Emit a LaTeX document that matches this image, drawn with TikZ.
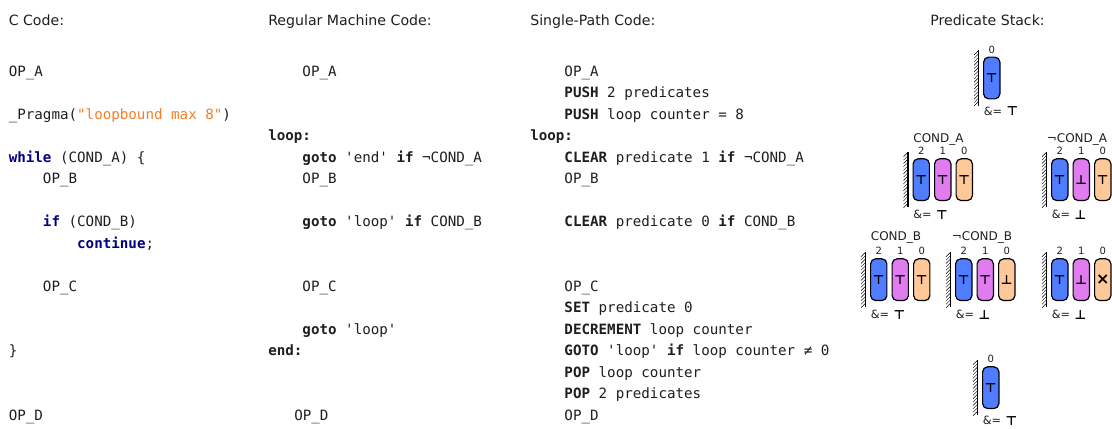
\documentclass[tikz,border=0pt]{standalone}
\usepackage{fontspec}
\setmainfont{DejaVu Sans}
\setmonofont{DejaVu Sans Mono}

\definecolor{ink}{RGB}{30,30,30}
\definecolor{kwnavy}{RGB}{0,0,128}
\definecolor{strorange}{RGB}{245,125,40}
\definecolor{pblue}{RGB}{80,125,255}
\definecolor{ppurple}{RGB}{224,123,240}
\definecolor{porange}{RGB}{255,200,153}

\newcommand\kw[1]{{\bfseries\color{kwnavy}#1}}
\newcommand\bw[1]{{\bfseries #1}}

% wall with hatching on its left side: x, top y, bottom y
\newcommand\stackwall[3]{%
  \draw[wall] (#1,#2) -- (#1,#3);
  \foreach \k in {0,...,15} \draw[hatch] (#1,#2+3.4*\k) -- ++(-4.5,4.5);
}

% three-slot predicate stack: name, left x, centre y, slot 2, slot 1, slot 0, result
\newcommand\predgroup[7]{%
  \stackwall{#2-4.5}{#3-27.5}{#3+27.5}
  \node[cell,fill=pblue]   (#1-2) at (#2+8.75,#3)  {#4};
  \node[cell,fill=ppurple] (#1-1) at (#2+30.25,#3) {#5};
  \node[cell,fill=porange] (#1-0) at (#2+51.75,#3) {#6};
  \node[idx] (#1-i2) at (#2+8.75,#3-28.5)  {2};
  \node[idx] (#1-i1) at (#2+30.25,#3-28.5) {1};
  \node[idx] (#1-i0) at (#2+51.75,#3-28.5) {0};
  \node[res,anchor=west] (#1-and) at (#2+0.5,#3+35) {\&=};
  \node[ressym] (#1-res) at (#2+29.5,#3+35) {#7};
}

% single-slot predicate stack: name, left x, centre y, slot 0, result
\newcommand\predsingle[5]{%
  \stackwall{#2-4.5}{#3-27.5}{#3+27.5}
  \node[cell,fill=pblue] (#1-0) at (#2+8.75,#3) {#4};
  \node[idx] (#1-i0) at (#2+8.75,#3-28.5) {0};
  \node[res,anchor=west] (#1-and) at (#2+0.5,#3+33) {\&=};
  \node[ressym] (#1-res) at (#2+29.5,#3+33) {#5};
}

\begin{document}
\begin{tikzpicture}[x=0.75pt,y=-0.75pt,
  hdr/.style={anchor=base west, inner sep=0pt, font=\fontsize{10.6}{12}\selectfont, text=ink},
  code/.style={anchor=base west, inner sep=0pt, font=\ttfamily\fontsize{10.65}{12}\selectfont, text=ink},
  cell/.style={draw=black, line width=0.9pt, rounded corners=3.75pt, minimum width=12.2pt,
               minimum height=31.3pt, inner sep=0pt, font=\bfseries\fontsize{9.5}{9.5}\selectfont, text=black},
  idx/.style={inner sep=0pt, font=\fontsize{7.5}{7.5}\selectfont, text=ink},
  condlabel/.style={anchor=base, inner sep=0pt, font=\fontsize{9}{9}\selectfont, text=ink},
  res/.style={inner sep=0pt, font=\fontsize{8.5}{8.5}\selectfont, text=ink},
  ressym/.style={inner sep=0pt, font=\bfseries\fontsize{9.5}{9.5}\selectfont, text=black},
  wall/.style={line width=1pt, black},
  hatch/.style={line width=0.3pt, black}]
\useasboundingbox (0,0) rectangle (1112,428);

% column headers
\node[hdr] (hC) at (8.5,26)  {C Code:};
\node[hdr] (hM) at (268,26)  {Regular Machine Code:};
\node[hdr] (hS) at (530,26)  {Single-Path Code:};
\node[hdr] (hP) at (930,26)  {Predicate Stack:};

% C code
\node[code] (c0)  at (8.5,76)    {OP\_A};
\node[code] (c2)  at (8.5,119)   {\_Pragma({\color{strorange}"loopbound max 8"})};
\node[code] (c4)  at (8.5,162)   {\kw{while} (COND\_A) \{};
\node[code] (c5)  at (42.7,183.5) {OP\_B};
\node[code] (c7)  at (42.7,226.5) {\kw{if} (COND\_B)};
\node[code] (c8)  at (76.9,248)  {\kw{continue};};
\node[code] (c10) at (42.7,291)  {OP\_C};
\node[code] (c13) at (8.5,355.5) {\}};
\node[code] (c16) at (8.5,420)   {OP\_D};

% regular machine code
\node[code] (m0)  at (302.2,76)    {OP\_A};
\node[code] (m3)  at (268,140.5)   {\bw{loop:}};
\node[code] (m4)  at (302.2,162)   {\bw{goto} 'end' \bw{if} ¬COND\_A};
\node[code] (m5)  at (302.2,183.5) {OP\_B};
\node[code] (m7)  at (302.2,226.5) {\bw{goto} 'loop' \bw{if} COND\_B};
\node[code] (m10) at (302.2,291)   {OP\_C};
\node[code] (m12) at (302.2,334)   {\bw{goto} 'loop'};
\node[code] (m13) at (268,355.5)   {\bw{end:}};
\node[code] (m16) at (294,420)     {OP\_D};

% single-path code
\node[code] (s0)  at (564.2,76)    {OP\_A};
\node[code] (s1)  at (564.2,97.5)  {\bw{PUSH} 2 predicates};
\node[code] (s2)  at (564.2,119)   {\bw{PUSH} loop counter = 8};
\node[code] (s3)  at (530,140.5)   {\bw{loop:}};
\node[code] (s4)  at (564.2,162)   {\bw{CLEAR} predicate 1 \bw{if} ¬COND\_A};
\node[code] (s5)  at (564.2,183.5) {OP\_B};
\node[code] (s7)  at (564.2,226.5) {\bw{CLEAR} predicate 0 \bw{if} COND\_B};
\node[code] (s10) at (564.2,291)   {OP\_C};
\node[code] (s11) at (564.2,312.5) {\bw{SET} predicate 0};
\node[code] (s12) at (564.2,334)   {\bw{DECREMENT} loop counter};
\node[code] (s13) at (564.2,355.5) {\bw{GOTO} 'loop' \bw{if} loop counter ≠ 0};
\node[code] (s14) at (564.2,377)   {\bw{POP} loop counter};
\node[code] (s15) at (564.2,398.5) {\bw{POP} 2 predicates};
\node[code] (s16) at (564.2,420)   {OP\_D};

% predicate stacks
\predsingle{top}{983}{78}{⊤}{⊤}

\predgroup{ca}{912.5}{179.7}{⊤}{⊤}{⊤}{⊤}
\predgroup{nca}{1051}{179.7}{⊤}{⊥}{⊤}{⊥}
\node[condlabel] (capA)  at (938.5,142.5) {COND\_A};
\node[condlabel] (capNA) at (1077,142.5)  {¬COND\_A};

\predgroup{cb}{870}{279.7}{⊤}{⊤}{⊤}{⊤}
\predgroup{ncb}{955}{279.7}{⊤}{⊤}{⊥}{⊥}
\predgroup{ex}{1051}{279.7}{⊤}{⊥}{\fontsize{12}{12}\selectfont ×}{⊥}
\node[condlabel] (capB)  at (896,240.5) {COND\_B};
\node[condlabel] (capNB) at (982,240.5) {¬COND\_B};

\predsingle{bot}{982}{387.7}{⊤}{⊤}
\end{tikzpicture}
\end{document}
